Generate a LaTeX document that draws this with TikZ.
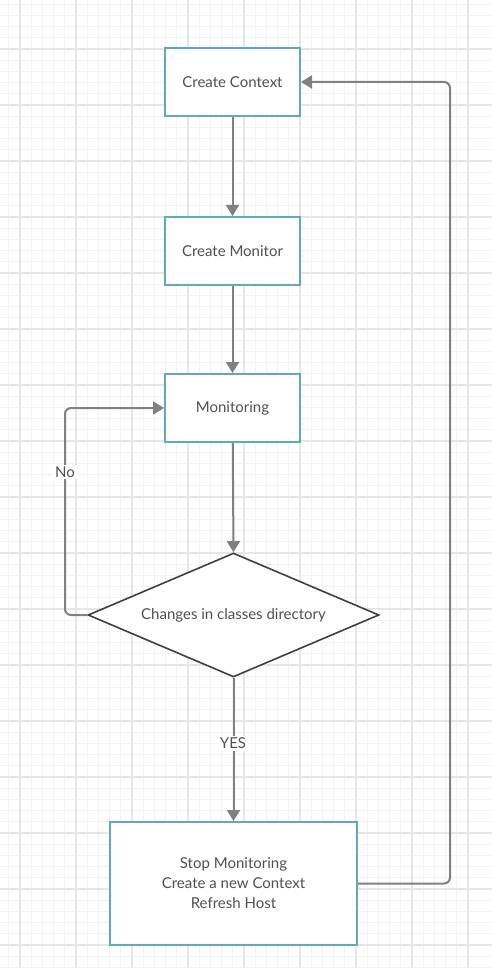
\documentclass[tikz,border=0pt]{standalone}
\usepackage{fontspec}
\setmainfont{Lato}
\usetikzlibrary{arrows.meta,shapes.geometric}
\definecolor{teal1}{HTML}{5BAFAF}
\definecolor{conn}{HTML}{808080}
\definecolor{txt}{HTML}{505050}
\definecolor{gminor}{HTML}{F3F3F3}
\definecolor{gmajor}{HTML}{E6E6E6}
\tikzset{
  box/.style={draw=teal1, line width=2pt, fill=white, minimum width=135pt, minimum height=68pt, inner sep=0pt, text=txt, font=\fontsize{15}{20}\selectfont, align=center},
  dia/.style={draw=black!75, line width=1.6pt, fill=white, diamond, aspect=2.35, minimum width=291pt, minimum height=124pt, inner sep=0pt, text=txt, font=\fontsize{15}{20}\selectfont},
  conn/.style={draw=conn, line width=2pt, -{Triangle[length=11pt,width=13pt]}, rounded corners=6pt},
  lbl/.style={fill=white, text=txt, font=\fontsize{15}{20}\selectfont, inner sep=2pt}
}
\begin{document}
\begin{tikzpicture}[x=1pt,y=-1pt]
\useasboundingbox (0,0) rectangle (492,968);
\fill[white] (0,0) rectangle (492,968);
% minor grid
\foreach \i in {0,...,44} {
  \draw[gminor, line width=1pt] ({20-56+11.2*\i},0) -- ({20-56+11.2*\i},968);
}
\foreach \i in {0,...,87} {
  \draw[gminor, line width=1pt] (0,{49-56+11.2*\i}) -- (492,{49-56+11.2*\i});
}
% major grid
\foreach \i in {0,...,8} {
  \draw[gmajor, line width=1.2pt] ({20+56*\i},0) -- ({20+56*\i},968);
}
\foreach \i in {0,...,16} {
  \draw[gmajor, line width=1.2pt] (0,{49+56*\i}) -- (492,{49+56*\i});
}
% nodes
\node[box] (ctx) at (232.5,82) {Create Context};
\node[box] (mon) at (232.5,251) {Create Monitor};
\node[box] (mtg) at (232.5,408) {Monitoring};
\node[dia] (chg) at (233.5,615) {Changes in classes directory};
\node[box, minimum width=247pt, minimum height=123pt] (stop) at (233.5,883.5) {Stop Monitoring\\Create a new Context\\Refresh Host};
\coordinate (r1) at (450,883.5);
\coordinate (r2) at (450,82);
\coordinate (l1) at (65,615);
\coordinate (l2) at (65,408);
% connectors
\draw[conn] (ctx) -- (mon);
\draw[conn] (mon) -- (mtg);
\draw[conn] (mtg) -- (chg.north);
\draw[conn] (chg.west) -- (l1) -- (l2) -- (mtg.west);
\draw[conn] (chg.south) -- (stop.north);
\draw[conn] (stop.east) -- (r1) -- (r2) -- (ctx.east);
\node[lbl] (no) at (65,472) {No};
\node[lbl] (yes) at (233,743) {YES};
\end{tikzpicture}
\end{document}
